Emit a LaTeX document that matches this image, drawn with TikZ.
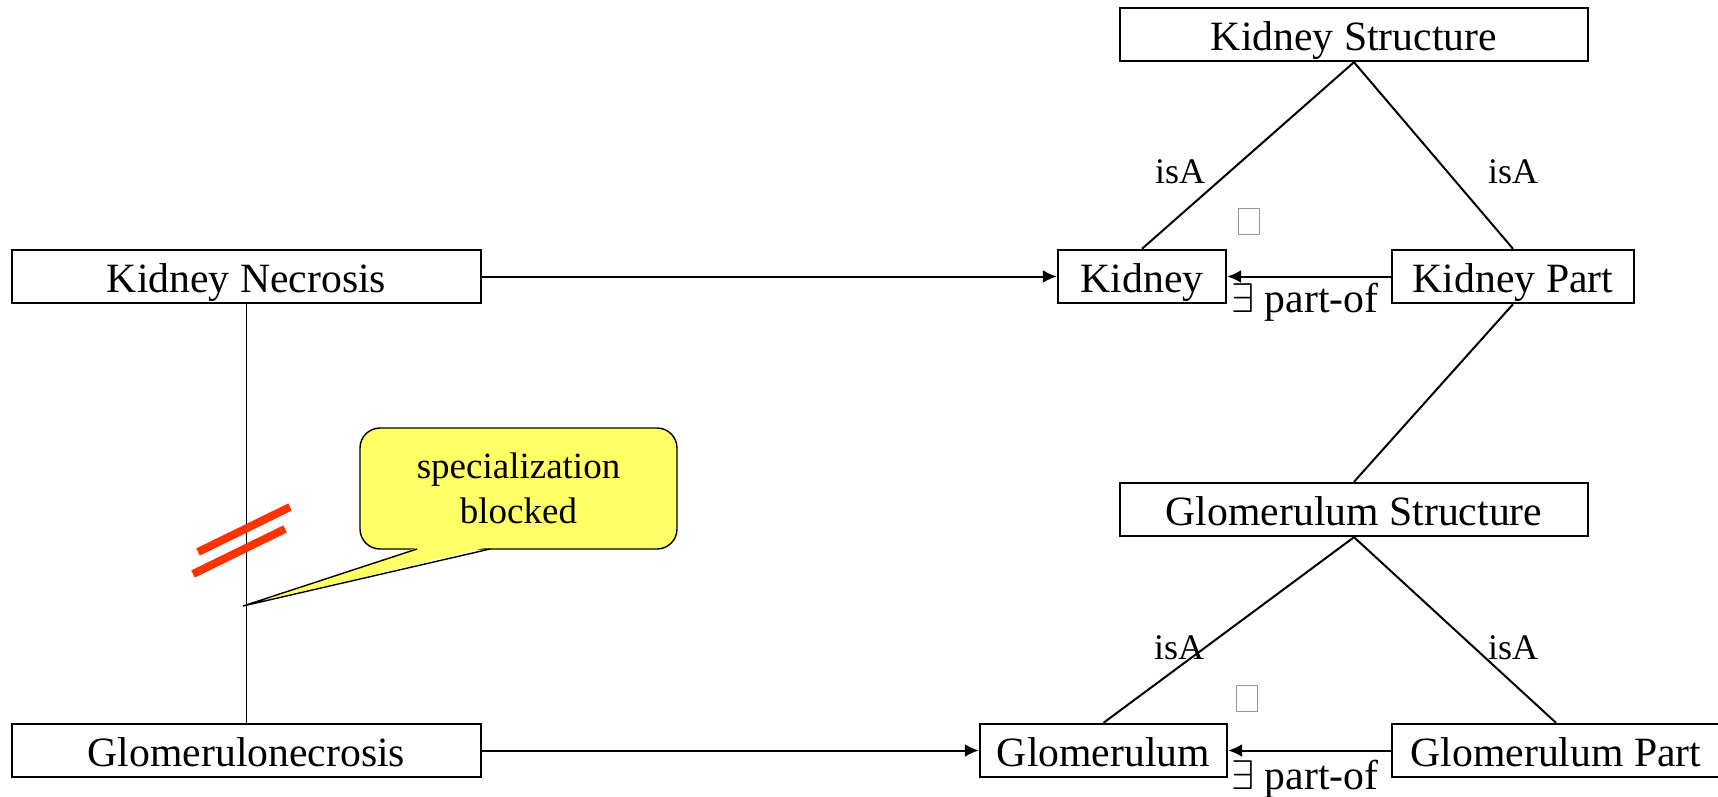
\documentclass[tikz,border=0pt]{standalone}
\usepackage{fontspec}
\setmainfont{Liberation Serif}
\usetikzlibrary{arrows.meta}
\definecolor{calloutyellow}{RGB}{255,255,102}
\definecolor{blockred}{RGB}{255,51,0}
\definecolor{glyphgray}{RGB}{150,150,150}
\tikzset{
  conceptbox/.style={draw, line width=1.2pt, inner sep=0pt, text height=20.8pt, text depth=4.5pt,
    minimum height=26.5pt, font=\fontsize{20.85}{25}\selectfont},
  conn/.style={line width=1pt},
  arr/.style={line width=1pt, -{Latex[length=7pt,width=6.5pt]}},
  isalabel/.style={inner sep=0pt, font=\fontsize{18}{21}\selectfont},
  partlabel/.style={inner sep=0pt, anchor=base west, font=\fontsize{20.85}{25}\selectfont},
  missingglyph/.style={draw=glyphgray, line width=0.5pt, inner sep=0pt, minimum width=10.5pt, minimum height=13pt},
  calloutbox/.style={draw, fill=calloutyellow, line width=0.7pt, rounded corners=10pt, inner sep=0pt,
    minimum width=158.5pt, minimum height=60.5pt, align=center, font=\fontsize{18.5}{22.5}\selectfont},
  blockbar/.style={draw=blockred, line width=4pt}
}
\begin{document}
\begin{tikzpicture}[x=0.5pt, y=-0.5pt]
\useasboundingbox (0,0) rectangle (1718,797);
% boxes
\node[conceptbox, minimum width=234pt] (KS) at (1354,34.5) {Kidney Structure};
\node[conceptbox, minimum width=84pt] (K) at (1142,276.5) {Kidney};
\node[conceptbox, minimum width=121pt] (KP) at (1513,276.5) {Kidney Part};
\node[conceptbox, minimum width=234.5pt] (KN) at (246.5,276.5) {Kidney Necrosis};
\node[conceptbox, minimum width=234pt] (GS) at (1354,509.5) {Glomerulum Structure};
\node[conceptbox, minimum width=123.5pt] (G) at (1103.5,750.5) {Glomerulum};
\node[conceptbox, minimum width=164pt] (GP) at (1556,750.5) {Glomerulum Part};
\node[conceptbox, minimum width=234.5pt] (GN) at (246.5,750.5) {Glomerulonecrosis};
% isA links
\draw[conn] (KS.south) -- (K.north);
\draw[conn] (KS.south) -- (KP.north);
\draw[conn] (KP.south) -- (GS.north);
\draw[conn] (GS.south) -- (G.north);
\draw[conn] (GS.south) -- (GP.north);
\node[isalabel] (isa1) at (1180,172) {isA};
\node[isalabel] (isa2) at (1513,172) {isA};
\node[isalabel] (isa3) at (1179,648) {isA};
\node[isalabel] (isa4) at (1513,648) {isA};
% missing glyph boxes
\node[missingglyph] (mg1) at (1248.5,221) {};
\node[missingglyph] (mg2) at (1246.5,698) {};
% arrows
\draw[arr] (KN.east) -- (KN.east -| K.west);
\draw[arr] (GN.east) -- (GN.east -| G.west);
\draw[arr] (KP.west) -- (KP.west -| K.east);
\draw[arr] (GP.west) -- (GP.west -| G.east);
\node[partlabel] (po1) at (1231,312) {$\exists$ part-of};
\node[partlabel] (po2) at (1231,789) {$\exists$ part-of};
% vertical link with block
\draw[line width=0.9pt] (KN.south) -- (GN.north);
\draw[blockbar] (198,552) -- (290,507);
\draw[blockbar] (193,574) -- (285,529);
% callout
\node[calloutbox] (call) at (518.5,488.5) {specialization\\blocked};
\coordinate (tip) at (243,606);
\fill[calloutyellow] (419,547) -- (tip) -- (488,547) -- cycle;
\draw[line width=0.7pt] (417,549) -- (tip) -- (490,549);
\end{tikzpicture}
\end{document}
